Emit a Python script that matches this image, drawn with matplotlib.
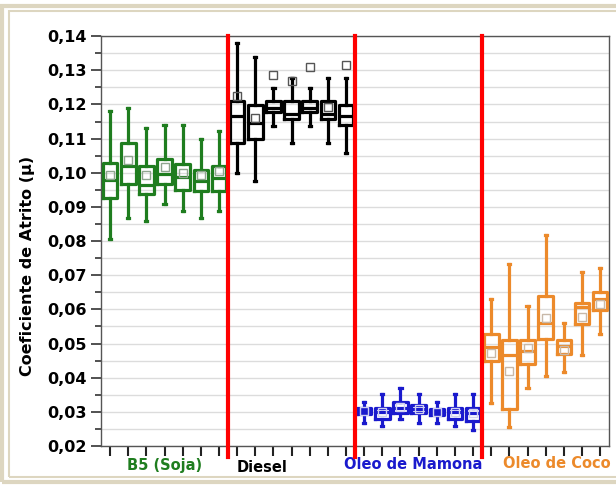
import numpy as np
import matplotlib.pyplot as plt
from matplotlib.patches import Rectangle
from matplotlib.ticker import MultipleLocator, FuncFormatter

# groups of 7 samples each
groups = ['B5 (Soja)', 'Diesel', 'Oleo de Mamona', 'Oleo de Coco']
group_colors = ['#1f7d1f', '#000000', '#1a1acd', '#ec8a2b']
mean_colors = ['#8fa58f', '#555555', '#d0d0f0', '#c8b8a8']

# box statistics (28 boxes)
whis_lo = [0.0805, 0.0868, 0.0858, 0.0908, 0.0888, 0.0868, 0.0887,
           0.0998, 0.0976, 0.1136, 0.1087, 0.1136, 0.1087, 0.1058,
           0.0267, 0.0259, 0.0278, 0.0267, 0.0267, 0.0259, 0.0247,
           0.0327, 0.0257, 0.0369, 0.0406, 0.0418, 0.0467, 0.0527]
q1 = [0.0927, 0.0966, 0.0939, 0.0966, 0.0949, 0.0947, 0.0946,
      0.1087, 0.1100, 0.1178, 0.1156, 0.1178, 0.1158, 0.1139,
      0.0293, 0.0279, 0.0298, 0.0296, 0.0291, 0.0279, 0.0274,
      0.0449, 0.0307, 0.0439, 0.0512, 0.0468, 0.0557, 0.0598]
med = [0.0978, 0.1020, 0.0963, 0.0995, 0.0988, 0.0975, 0.0985,
       0.1166, 0.1146, 0.1189, 0.1173, 0.1189, 0.1173, 0.1166,
       0.0303, 0.0299, 0.0310, 0.0308, 0.0301, 0.0299, 0.0298,
       0.0491, 0.0467, 0.0478, 0.0559, 0.0493, 0.0606, 0.0630]
q3 = [0.1029, 0.1088, 0.1019, 0.1039, 0.1027, 0.1009, 0.1019,
      0.1209, 0.1197, 0.1209, 0.1209, 0.1209, 0.1209, 0.1197,
      0.0312, 0.0312, 0.0328, 0.0320, 0.0308, 0.0310, 0.0310,
      0.0528, 0.0509, 0.0509, 0.0639, 0.0509, 0.0618, 0.0650]
whis_hi = [0.1180, 0.1190, 0.1131, 0.1139, 0.1139, 0.1100, 0.1121,
           0.1381, 0.1339, 0.1248, 0.1278, 0.1248, 0.1278, 0.1278,
           0.0328, 0.0351, 0.0369, 0.0351, 0.0328, 0.0351, 0.0351,
           0.0630, 0.0732, 0.0609, 0.0819, 0.0559, 0.0708, 0.0720]
means = [0.0994, 0.1036, 0.0993, 0.1017, 0.1000, 0.0993, 0.1004,
         0.1225, 0.1161, 0.1287, 0.1268, 0.1311, 0.1192, 0.1316,
         0.0303, 0.0299, 0.0315, 0.0308, 0.0301, 0.0299, 0.0298,
         0.0471, 0.0420, 0.0486, 0.0574, 0.0481, 0.0578, 0.0615]

fig = plt.figure(figsize=(6.16, 4.88), dpi=100)
# beige double frame like the original screenshot
fig.patches.append(Rectangle((0.003, 0.012), 1.2, 0.975, transform=fig.transFigure,
                             fill=False, ec='#ddd6c0', lw=3))
fig.patches.append(Rectangle((0.014, 0.022), 1.2, 0.955, transform=fig.transFigure,
                             fill=False, ec='#ddd6c0', lw=1.5))

ax = fig.add_axes([0.164, 0.086, 0.825, 0.840])

n = 7
for g in range(len(groups)):
    stats = []
    for i in range(g * n, (g + 1) * n):
        stats.append(dict(whislo=whis_lo[i], q1=q1[i], med=med[i], q3=q3[i],
                          whishi=whis_hi[i], mean=means[i], fliers=[]))
    pos = np.arange(g * n, (g + 1) * n) + 1
    c = group_colors[g]
    lw = 2.3
    ax.bxp(stats, positions=pos, widths=0.8, showmeans=True,
           boxprops=dict(color=c, lw=lw),
           medianprops=dict(color=c, lw=lw),
           whiskerprops=dict(color=c, lw=lw),
           capprops=dict(color=c, lw=lw),
           capwidths=0.12,
           meanprops=dict(marker='s', markerfacecolor='none',
                          markeredgecolor=mean_colors[g], markersize=6, mew=1),
           manage_ticks=False, zorder=3)

for xv in [7.5, 14.5, 21.5]:
    ax.axvline(xv, ymin=-0.027, ymax=1, color='#ff0000', lw=3, clip_on=False, zorder=5)

ax.set_xlim(0.5, 28.5)
ax.set_ylim(0.02, 0.14)
ax.yaxis.set_major_locator(MultipleLocator(0.01))
ax.yaxis.set_minor_locator(MultipleLocator(0.005))
ax.yaxis.set_major_formatter(FuncFormatter(lambda v, p: f'{v:.2f}'.replace('.', ',')))
ax.set_xticks(np.arange(1, 29))
ax.set_xticklabels([])
ax.tick_params(axis='x', direction='out', length=7, width=1.5, color='#222222')
ax.tick_params(axis='y', which='major', direction='out', length=7, width=1.2,
               color='#333333', labelsize=11.5)
ax.tick_params(axis='y', which='minor', direction='out', length=4, width=1.2, color='#333333')
for lab in ax.get_yticklabels():
    lab.set_fontweight('bold')

ax.grid(True, axis='y', which='both', color='#dcdcdc', lw=1, zorder=0)
ax.set_axisbelow(True)
for s in ax.spines.values():
    s.set_color('#555555')
    s.set_linewidth(1)

ax.set_ylabel('Coeficiente de Atrito (µ)', fontsize=11.5, fontweight='bold')
ax.yaxis.set_label_coords(-0.13, 0.44)

label_x = [4.0, 9.4, 17.7, 25.6]
label_y = [-0.0056, -0.0064, -0.0053, -0.0051]
for g in range(len(groups)):
    ax.text(label_x[g], 0.02 + label_y[g], groups[g], color=group_colors[g],
            fontsize=10.5, fontweight='bold', ha='center', va='center')

fig.savefig('out.png', dpi=100)
